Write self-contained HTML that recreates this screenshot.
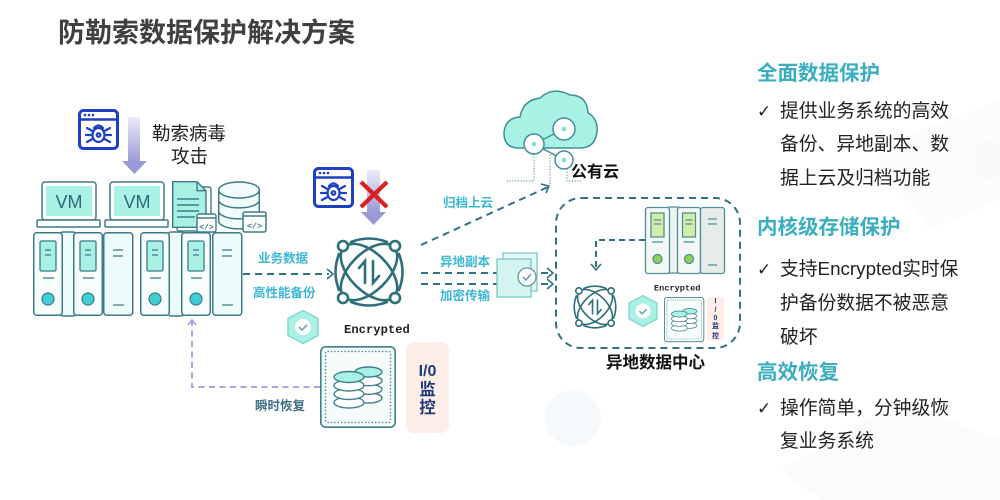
<!DOCTYPE html>
<html>
<head>
<meta charset="utf-8">
<style>
  html,body{margin:0;padding:0;background:#fff;}
  body{width:1000px;height:500px;overflow:hidden;}
  svg{display:block;}
  .cjk{font-family:"Liberation Sans","Noto Sans CJK SC",sans-serif;}
  .mono{font-family:"Liberation Mono","DejaVu Sans Mono",monospace;}
</style>
</head>
<body>
<svg width="1000" height="500" viewBox="0 0 1000 500" xmlns="http://www.w3.org/2000/svg">
  <defs>
    <linearGradient id="pg" x1="0" y1="0" x2="0" y2="1">
      <stop offset="0" stop-color="#ececf8"/>
      <stop offset="1" stop-color="#9898d6"/>
    </linearGradient>
    <g id="hub" stroke="#2f6f7a" stroke-width="2.6" fill="none" stroke-linecap="round">
      <path d="M-30,-18 Q-37,0 -30,18"/>
      <path d="M30,-18 Q37,0 30,18"/>
      <path d="M-18,-30 Q0,-37 18,-30"/>
      <path d="M-18,30 Q0,37 18,30"/>
      <ellipse cx="0" cy="0" rx="35" ry="19" transform="rotate(45)"/>
      <ellipse cx="0" cy="0" rx="35" ry="19" transform="rotate(-45)"/>
      <circle cx="-26" cy="-26" r="5" fill="#fff"/>
      <circle cx="26" cy="-26" r="5" fill="#fff"/>
      <circle cx="-26" cy="26" r="5" fill="#fff"/>
      <circle cx="26" cy="26" r="5" fill="#fff"/>
      <path d="M-4,11 V-11 L-10,-4"/>
      <path d="M4,-11 V11 L10,4"/>
    </g>
    <g id="shield">
      <path d="M0,-16.5 L15,-8.5 L15,8.5 L0,16.5 L-15,8.5 L-15,-8.5 Z" fill="#a9f0e5" stroke="#86d6cc" stroke-width="1.5" stroke-linejoin="round"/>
      <circle cx="0" cy="0" r="8" fill="#fff"/>
      <path d="M-4,0 L-1,3 L4,-2" fill="none" stroke="#6aa6b0" stroke-width="1.6"/>
    </g>
    <g id="stor">
      <rect x="0.8" y="0.8" width="74.4" height="80.4" rx="5" fill="#f6fcfc" stroke="#3f7f8c" stroke-width="1.6"/>
      <rect x="5.5" y="5.5" width="65" height="71" rx="2" fill="none" stroke="#3f7f8c" stroke-width="1.3" stroke-dasharray="1.4,2"/>
      <g stroke="#3f7f8c" stroke-width="1.4">
        <ellipse cx="48.5" cy="52" rx="13.5" ry="5" fill="#fff"/>
        <ellipse cx="48.5" cy="43.3" rx="13.5" ry="5" fill="#fff"/>
        <ellipse cx="48.5" cy="34.7" rx="13.5" ry="5" fill="#fff"/>
        <ellipse cx="48.5" cy="26" rx="13.5" ry="5" fill="#a9f0e5"/>
        <ellipse cx="29" cy="56.5" rx="15" ry="5.5" fill="#fff"/>
        <ellipse cx="29" cy="48" rx="15" ry="5.5" fill="#fff"/>
        <ellipse cx="29" cy="39.5" rx="15" ry="5.5" fill="#fff"/>
        <ellipse cx="29" cy="31" rx="15" ry="5.5" fill="#a9f0e5"/>
      </g>
    </g>
    <g id="srvA">
      <rect x="0.75" y="0.75" width="28.5" height="82.5" rx="3" fill="#f7fdfd" stroke="#3d7a88" stroke-width="1.5"/>
      <rect x="7" y="9" width="16" height="30" rx="1.5" fill="#a9f0e5" stroke="#3d7a88" stroke-width="1.3"/>
      <path d="M12,18 H18 M12,23 H18 M10,46 H21" stroke="#3d7a88" stroke-width="1.3"/>
      <circle cx="15" cy="67" r="6" fill="#40cdd6" stroke="#3d7a88" stroke-width="1.2"/>
    </g>
    <g id="srvB">
      <rect x="0.75" y="0.75" width="29" height="82.5" rx="3" fill="#eefbfb" stroke="#3d7a88" stroke-width="1.5"/>
      <path d="M10,18 H20 M10,24 H20 M10,73 H21" stroke="#3d7a88" stroke-width="1.3"/>
    </g>
    <g id="bug">
      <rect x="1.5" y="1.5" width="38" height="38" rx="4" fill="#fff" stroke="#1e40c4" stroke-width="3"/>
      <path d="M1.5,10.5 H39.5" stroke="#1e40c4" stroke-width="2.5"/>
      <circle cx="7" cy="6" r="1.3" fill="#1e40c4"/>
      <circle cx="11" cy="6" r="1.3" fill="#1e40c4"/>
      <circle cx="15" cy="6" r="1.3" fill="#1e40c4"/>
      <g stroke="#1e40c4" stroke-width="2.2" fill="none" stroke-linecap="round">
        <ellipse cx="20.5" cy="26" rx="6" ry="7"/>
        <path d="M16,19 Q20.5,14 25,19"/>
        <circle cx="20.5" cy="26" r="1.8"/>
        <path d="M14.5,22 L9,19 M14.5,26 H8 M14.5,30 L9,33 M26.5,22 L32,19 M26.5,26 H33 M26.5,30 L32,33"/>
      </g>
    </g>
  </defs>

  <!-- faint background decoration -->
  <g fill="#f6f9fc">
    <circle cx="573" cy="418" r="28"/>
    <path d="M780,470 L900,400 L1000,440 L1000,500 L820,500 Z" opacity="0.6"/>
    <path d="M870,150 L1000,100 L1000,200 L930,230 Z" opacity="0.5"/>
    <circle cx="990" cy="160" r="20" opacity="0.6"/>
  </g>

  <!-- Title -->
  <text x="58" y="42" class="cjk" font-size="27" font-weight="bold" fill="#404040">防勒索数据保护解决方案</text>

  <!-- Left: ransomware attack -->
  <use href="#bug" x="78" y="109"/>
  <rect x="128" y="117" width="12" height="46" fill="url(#pg)"/>
  <polygon points="122,161 147,161 134.5,174" fill="#9a9ad8"/>
  <text x="152" y="140" class="cjk" font-size="18.5" fill="#222">勒索病毒</text>
  <text x="171" y="163" class="cjk" font-size="18.5" fill="#222">攻击</text>

  <!-- VM laptops -->
  <g stroke="#3d7a88" stroke-width="1.5">
    <rect x="42" y="182" width="54" height="38" rx="3" fill="#fff"/>
    <rect x="46" y="186" width="46" height="30" fill="#a9f0e5" stroke="none"/>
    <rect x="37" y="220" width="63" height="7" rx="1" fill="#fff"/>
    <rect x="110" y="182" width="54" height="38" rx="3" fill="#fff"/>
    <rect x="114" y="186" width="46" height="30" fill="#a9f0e5" stroke="none"/>
    <rect x="105" y="220" width="63" height="7" rx="1" fill="#fff"/>
  </g>
  <text x="69" y="208" text-anchor="middle" font-family="Liberation Sans,sans-serif" font-size="18" fill="#2f6a78">VM</text>
  <text x="137" y="208" text-anchor="middle" font-family="Liberation Sans,sans-serif" font-size="18" fill="#2f6a78">VM</text>

  <!-- document icon -->
  <g stroke="#3d7a88" stroke-width="1.4">
    <rect x="177" y="187" width="34" height="44" rx="2" fill="#fff"/>
    <path d="M172.7,181.7 H197 L206,190.7 V227.3 H172.7 Z" fill="#a9f0e5" stroke-linejoin="round"/>
    <path d="M197,181.7 V190.7 H206" fill="none"/>
    <path d="M177,199 H199 M177,205 H199 M177,211 H199 M177,217 H195" />
    <rect x="197" y="214" width="19" height="18" rx="2" fill="#fff"/>
    <path d="M197,218 H216"/>
  </g>
  <text x="206.5" y="229.5" text-anchor="middle" class="mono" font-size="8" font-weight="bold" fill="#3d7a88">&lt;/&gt;</text>

  <!-- database icon -->
  <g stroke="#3d7a88" stroke-width="1.5">
    <path d="M218.7,190 V222 A20.5,8 0 0 0 259.3,222 V190" fill="#f2fcfb"/>
    <path d="M218.7,201 A20.5,8 0 0 0 259.3,201 M218.7,212 A20.5,8 0 0 0 259.3,212" fill="none"/>
    <ellipse cx="239" cy="190" rx="20.3" ry="8" fill="#f2fcfb"/>
    <rect x="243" y="212" width="23" height="20" rx="2" fill="#fff"/>
    <path d="M243,216 H266"/>
  </g>
  <text x="254.5" y="228.5" text-anchor="middle" class="mono" font-size="8.5" font-weight="bold" fill="#3d7a88">&lt;/&gt;</text>

  <!-- server rack left -->
  <rect x="60" y="232" width="16" height="84" rx="3" fill="#eefbfb" stroke="#3d7a88" stroke-width="1.5"/>
  <rect x="168" y="232" width="16" height="84" rx="3" fill="#eefbfb" stroke="#3d7a88" stroke-width="1.5"/>
  <use href="#srvA" x="33" y="232"/>
  <use href="#srvA" x="73" y="232"/>
  <use href="#srvB" x="103" y="232"/>
  <use href="#srvA" x="140" y="232"/>
  <use href="#srvA" x="181" y="232"/>
  <use href="#srvB" x="212" y="232"/>

  <!-- data to hub -->
  <path d="M243,274 H329" stroke="#2f7385" stroke-width="2" stroke-dasharray="7,5" fill="none"/>
  <path d="M327,269 L333,274 L327,279" stroke="#2f7385" stroke-width="1.6" fill="none"/>
  <text x="258" y="262.5" class="cjk" font-size="12.5" font-weight="bold" fill="#3ab6d6">业务数据</text>
  <text x="253" y="297" class="cjk" font-size="12.5" font-weight="bold" fill="#3ab6d6">高性能备份</text>

  <!-- blocked attack -->
  <use href="#bug" x="313" y="167"/>
  <rect x="367" y="170" width="13" height="43" fill="url(#pg)"/>
  <polygon points="361,212 386,212 373.5,225" fill="#9a9ad8"/>
  <path d="M361,182 L387,207 M387,182 L361,207" stroke="#d82020" stroke-width="4.2"/>

  <!-- hub -->
  <use href="#hub" transform="translate(369,272)"/>

  <!-- shield, encrypted, storage, IO -->
  <use href="#shield" transform="translate(303,327)"/>
  <text x="344" y="333" class="mono" font-size="12.2" font-weight="bold" fill="#222">Encrypted</text>
  <use href="#stor" transform="translate(320,346)"/>
  <rect x="406" y="342" width="43" height="91" rx="8" fill="#fdeee8"/>
  <text x="427.5" y="376" text-anchor="middle" font-family="Liberation Sans,sans-serif" font-size="16" font-weight="bold" fill="#1f3a7a">I/0</text>
  <text x="427.5" y="395" text-anchor="middle" class="cjk" font-size="16.5" font-weight="bold" fill="#1f3a7a">监</text>
  <text x="427.5" y="413" text-anchor="middle" class="cjk" font-size="16.5" font-weight="bold" fill="#1f3a7a">控</text>

  <!-- instant recovery -->
  <path d="M320,387 H192 V322" stroke="#9b9be6" stroke-width="1.8" stroke-dasharray="6,4.5" fill="none"/>
  <path d="M188,325 L192,320 L196,325" stroke="#9b9be6" stroke-width="1.5" fill="none"/>
  <text x="255" y="410" class="cjk" font-size="12.5" font-weight="bold" fill="#3d6e85">瞬时恢复</text>

  <!-- archive to cloud -->
  <path d="M421,245 L548,187" stroke="#2f7385" stroke-width="2" stroke-dasharray="7,5" fill="none"/>
  <path d="M541,184 L549,186 L546,193" stroke="#2f7385" stroke-width="1.6" fill="none"/>
  <text x="443" y="207" class="cjk" font-size="12.5" font-weight="bold" fill="#3ab6d6">归档上云</text>

  <!-- cloud -->
  <path d="M517,148 Q504,147 504,133 Q505,118 520,117 Q523,100 540,98 Q553,86 570,95 Q587,95 588,113 Q598,118 597,132 Q595,148 580,148 Z" fill="#a9f0e5" stroke="#3f8f98" stroke-width="1.5"/>
  <g stroke="#3f8f98" stroke-width="1.5">
    <path d="M534,144 L564,129 M534,144 L564,160"/>
    <circle cx="534" cy="144" r="10" fill="#fff"/>
    <circle cx="564" cy="129" r="11" fill="#fff"/>
    <circle cx="564" cy="160" r="9" fill="#fff"/>
  </g>
  <circle cx="534" cy="144" r="2.3" fill="#7ee0d8"/>
  <circle cx="564" cy="129" r="2.3" fill="#7ee0d8"/>
  <circle cx="564" cy="160" r="2.3" fill="#7ee0d8"/>
  <path d="M534,154 V181 H506 M550,152 V184 M567,169 V181 H581" stroke="#6f9fa8" stroke-width="1.2" stroke-dasharray="1.2,1.6" fill="none"/>
  <text x="571" y="177" class="cjk" font-size="16" font-weight="bold" fill="#111">公有云</text>

  <!-- copy / encrypted transfer -->
  <path d="M421,273 H553 M421,284 H553" stroke="#2f7385" stroke-width="2" stroke-dasharray="7,5" fill="none"/>
  <path d="M547,268 L553,273 L547,278 M547,279 L553,284 L547,289" stroke="#2f7385" stroke-width="1.6" fill="none"/>
  <text x="440" y="266" class="cjk" font-size="12.5" font-weight="bold" fill="#3ab6d6">异地副本</text>
  <text x="440" y="300" class="cjk" font-size="12.5" font-weight="bold" fill="#3ab6d6">加密传输</text>
  <g stroke="#7cc6c6" stroke-width="1.3">
    <rect x="503" y="253" width="34" height="38" fill="#e2f9f5"/>
    <rect x="497" y="259" width="34" height="38" fill="#d2f5f0"/>
    <circle cx="527" cy="277" r="9" fill="#fff" stroke="#5f9aa5"/>
  </g>
  <path d="M523,277 L526,280 L531,274" stroke="#5f9aa5" stroke-width="1.5" fill="none"/>

  <!-- remote data center -->
  <rect x="556" y="198" width="184" height="150" rx="25" fill="none" stroke="#2f7385" stroke-width="2" stroke-dasharray="7,5"/>
  <text x="606" y="368" class="cjk" font-size="16.5" font-weight="bold" fill="#111">异地数据中心</text>
  <rect x="667" y="207" width="13" height="66" rx="2" fill="#eef4f2" stroke="#4f8f95" stroke-width="1.3"/>
  <g stroke="#4f8f95" stroke-width="1.3">
    <rect x="645.5" y="207.5" width="24" height="66" rx="2.5" fill="#f3f8f7"/>
    <rect x="651" y="213" width="13" height="24" fill="#d4eca9"/>
    <path d="M654,220 H661 M654,224 H661 M652,242 H663"/>
    <circle cx="657.5" cy="259" r="4.5" fill="#93cd5a"/>
    <rect x="677.5" y="207.5" width="23" height="66" rx="2.5" fill="#f3f8f7"/>
    <rect x="682.5" y="213" width="13" height="24" fill="#d4eca9"/>
    <path d="M685.5,220 H692.5 M685.5,224 H692.5 M683.5,242 H694.5"/>
    <circle cx="689" cy="259" r="4.5" fill="#93cd5a"/>
    <rect x="700.5" y="207.5" width="24" height="66" rx="2.5" fill="#e6ecea"/>
    <path d="M708,219 H717 M708,224 H717 M708,265 H717"/>
  </g>
  <path d="M645,240 H596 V269" stroke="#2f7385" stroke-width="2" stroke-dasharray="6,4" fill="none"/>
  <path d="M591,264 L596,270 L601,264" stroke="#2f7385" stroke-width="1.6" fill="none"/>
  <use href="#hub" transform="translate(595,307) scale(0.62)"/>
  <use href="#shield" transform="translate(643,311) scale(0.93)"/>
  <text x="654" y="290.5" class="mono" font-size="8.6" font-weight="bold" fill="#222">Encrypted</text>
  <use href="#stor" transform="translate(664,297) scale(0.53,0.55)"/>
  <rect x="707" y="297" width="17" height="44" rx="3" fill="#fdeee8"/>
  <g font-family="Liberation Sans,'Noto Sans CJK SC',sans-serif" font-size="7" font-weight="bold" fill="#1f3a7a" text-anchor="middle">
    <text x="715.5" y="303">I</text>
    <text x="715.5" y="312">/</text>
    <text x="715.5" y="320">0</text>
    <text x="715.5" y="328">监</text>
    <text x="715.5" y="338">控</text>
  </g>

  <!-- right text column -->
  <g class="cjk">
    <text x="757" y="80" font-size="20.5" font-weight="bold" fill="#3aaebf">全面数据保护</text>
    <text x="757" y="117" font-size="17" fill="#222" font-family="DejaVu Sans,sans-serif">✓</text>
    <text x="780" y="117" font-size="18.8" fill="#222">提供业务系统的高效</text>
    <text x="780" y="150" font-size="18.8" fill="#222">备份、异地副本、数</text>
    <text x="780" y="184" font-size="18.8" fill="#222">据上云及归档功能</text>

    <text x="757" y="234" font-size="20.5" font-weight="bold" fill="#3aaebf">内核级存储保护</text>
    <text x="757" y="275" font-size="17" fill="#222" font-family="DejaVu Sans,sans-serif">✓</text>
    <text x="780" y="275" font-size="18.8" fill="#222">支持Encrypted实时保</text>
    <text x="780" y="309" font-size="18.8" fill="#222">护备份数据不被恶意</text>
    <text x="780" y="343" font-size="18.8" fill="#222">破坏</text>

    <text x="757" y="379" font-size="20.5" font-weight="bold" fill="#3aaebf">高效恢复</text>
    <text x="757" y="414" font-size="17" fill="#222" font-family="DejaVu Sans,sans-serif">✓</text>
    <text x="780" y="414" font-size="18.8" fill="#222">操作简单，分钟级恢</text>
    <text x="780" y="447" font-size="18.8" fill="#222">复业务系统</text>
  </g>
</svg>
</body>
</html>
